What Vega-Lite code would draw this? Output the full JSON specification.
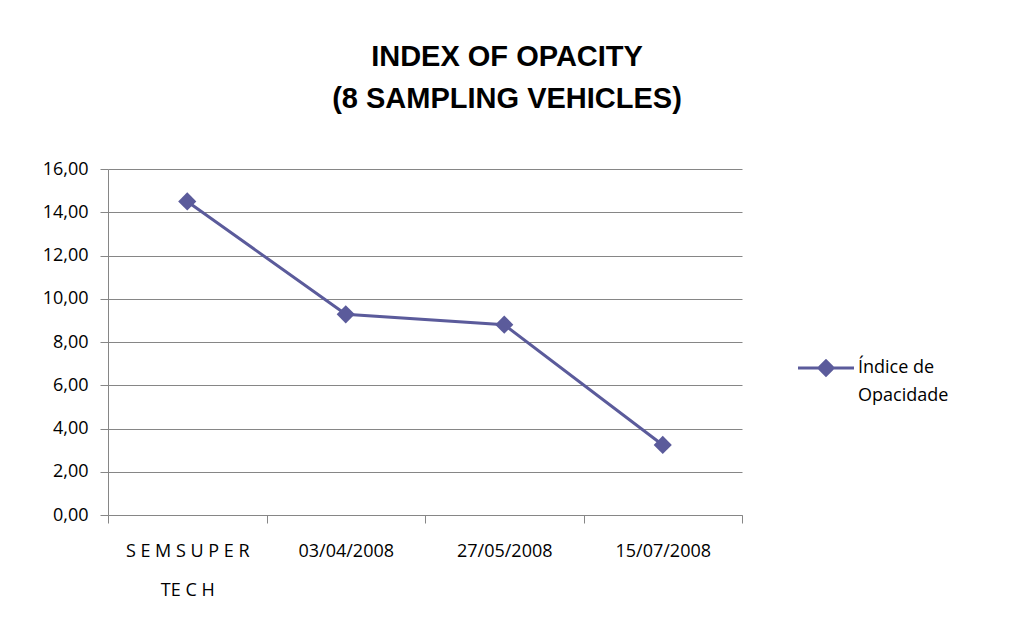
{
  "$schema": "https://vega.github.io/schema/vega-lite/v6.json",
  "width": 634,
  "height": 346,
  "autosize": {"type": "none"},
  "padding": {"left": 108, "top": 169, "right": 268, "bottom": 105},
  "background": "white",
  "title": {
    "text": ["INDEX OF OPACITY", "(8 SAMPLING VEHICLES)"],
    "font": "Liberation Sans",
    "fontSize": 29,
    "fontWeight": "bold",
    "color": "black",
    "anchor": "middle",
    "dx": 82,
    "offset": 46,
    "lineHeight": 42
  },
  "data": {
    "values": [
      {"data": "SEM SUPER TECH", "indice": 14.5, "serie": "Índice de Opacidade"},
      {"data": "03/04/2008", "indice": 9.28, "serie": "Índice de Opacidade"},
      {"data": "27/05/2008", "indice": 8.8, "serie": "Índice de Opacidade"},
      {"data": "15/07/2008", "indice": 3.24, "serie": "Índice de Opacidade"}
    ]
  },
  "mark": {
    "type": "line",
    "strokeWidth": 3,
    "point": {"shape": "diamond", "size": 330, "filled": true, "opacity": 1}
  },
  "encoding": {
    "x": {
      "field": "data",
      "type": "nominal",
      "sort": null,
      "bandPosition": 0.5,
      "scale": {"type": "band", "paddingInner": 0, "paddingOuter": 0},
      "axis": {
        "title": null,
        "labelAngle": 0,
        "tickBand": "extent",
        "tickSize": 8,
        "tickColor": "#868686",
        "domainColor": "#868686",
        "labelPadding": 19,
        "labelFont": "Open Sans",
        "labelFontSize": 18,
        "labelColor": "black",
        "labelLineHeight": 39,
        "labelBaseline": "top",
        "labelExpr": "datum.value == 'SEM SUPER TECH' ? ['S E M S U P E R', 'TE C H'] : datum.label"
      }
    },
    "y": {
      "field": "indice",
      "type": "quantitative",
      "scale": {"domain": [0, 16], "nice": false},
      "axis": {
        "title": null,
        "values": [0, 2, 4, 6, 8, 10, 12, 14, 16],
        "grid": true,
        "gridColor": "#868686",
        "tickSize": 8,
        "tickColor": "#868686",
        "domainColor": "#868686",
        "labelPadding": 12,
        "labelFont": "Open Sans",
        "labelFontSize": 18,
        "labelColor": "black",
        "labelExpr": "replace(format(datum.value, '.2f'), '.', ',')"
      }
    },
    "color": {
      "field": "serie",
      "type": "nominal",
      "scale": {"range": ["#5b5b9b"]},
      "legend": {
        "title": null,
        "orient": "none",
        "legendX": 690,
        "legendY": 171,
        "symbolType": "M-1,-0.055L1,-0.055L1,0.055L-1,0.055Z M0,-0.33L0.33,0L0,0.33L-0.33,0Z",
        "symbolSize": 3136,
        "labelExpr": "['Índice de', 'Opacidade']",
        "labelFont": "Open Sans",
        "labelFontSize": 18,
        "labelColor": "black",
        "labelOffset": 4,
        "labelLimit": 0,
        "encode": {
          "labels": {
            "update": {
              "lineHeight": {"value": 28}
            }
          },
          "symbols": {
            "update": {
              "fill": {"value": "#5b5b9b"},
              "stroke": {"value": "#5b5b9b"},
              "strokeWidth": {"value": 0},
              "opacity": {"value": 1}
            }
          }
        }
      }
    }
  },
  "config": {"view": {"stroke": null}}
}
